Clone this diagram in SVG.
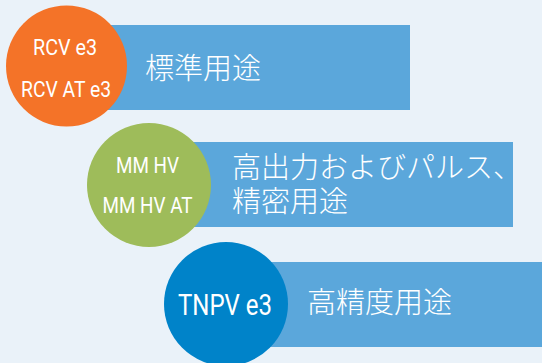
<svg xmlns="http://www.w3.org/2000/svg" width="542" height="363" viewBox="0 0 542 363">
<style>
.bar{fill:#5BA7DB}
.lbl{font-family:Roboto,"Liberation Sans",sans-serif;fill:#fff;text-anchor:middle}
.jp{font-family:"Noto Sans CJK JP","Noto Sans",sans-serif;fill:#fff;font-size:29px;font-weight:300}
</style>
<rect width="542" height="363" fill="#EAF2F9"/>
<g id="node-standard">
<rect class="bar" x="66" y="25" width="344" height="85"/>
<circle cx="66.5" cy="66" r="60.5" fill="#F47328"/>
<text class="lbl" x="65" y="55" font-size="22" textLength="64" lengthAdjust="spacingAndGlyphs">RCV e3</text>
<text class="lbl" x="66" y="97" font-size="22" textLength="90" lengthAdjust="spacingAndGlyphs">RCV AT e3</text>
<text class="jp" x="145" y="79">標準用途</text>
</g>
<g id="node-highpower">
<rect class="bar" x="149" y="142" width="364" height="85"/>
<circle cx="149" cy="185" r="62" fill="#9EBC5A"/>
<text class="lbl" x="147.5" y="173" font-size="22" textLength="63" lengthAdjust="spacingAndGlyphs">MM HV</text>
<text class="lbl" x="147.5" y="213" font-size="22" textLength="90" lengthAdjust="spacingAndGlyphs">MM HV AT</text>
<text class="jp" x="232" y="178">高出力およびパルス、</text>
<text class="jp" x="232" y="212">精密用途</text>
</g>
<g id="node-precision">
<rect class="bar" x="226" y="262" width="316" height="85"/>
<circle cx="226" cy="304" r="62" fill="#0083C9"/>
<text class="lbl" x="225" y="315" font-size="30" textLength="94" lengthAdjust="spacingAndGlyphs">TNPV e3</text>
<text class="jp" x="307" y="313">高精度用途</text>
</g>
<g id="connectors"/>
</svg>
